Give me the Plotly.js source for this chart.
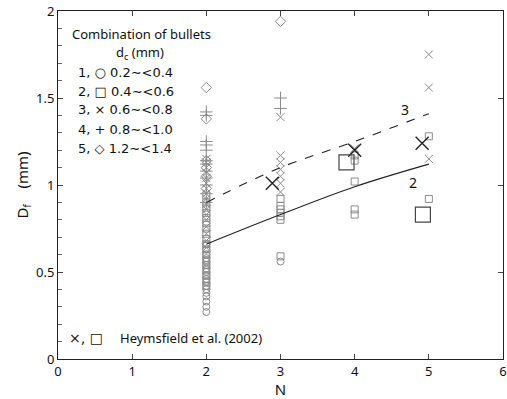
<!DOCTYPE html>
<html><head><meta charset="utf-8">
<script src="https://cdn.plot.ly/plotly-3.0.1.min.js"></script>
<style>body{margin:0;background:#fff}#c{width:507px;height:399px}</style>
</head><body><div id="c"></div>
<script>
// class 1: circles (dc 0.2-<0.4)
const circN = [2,2,2,2,2,2,2,2,2,2,2,2,2,2,2,2,2,2,3];
const circD = [0.27,0.30,0.33,0.36,0.38,0.40,0.42,0.44,0.46,0.48,0.50,0.52,0.54,0.56,0.58,0.60,0.63,0.66,0.56];
// class 2: squares (0.4-<0.6)
const sqN = [2,2,2,2,2,2,2,2,2,2,2,2,2,2,2,2,2,2,3,3,3,3,3,3,3,4,4,4,4,4,5,5];
const sqD = [0.42,0.45,0.48,0.51,0.54,0.57,0.60,0.63,0.66,0.69,0.72,0.75,0.78,0.81,0.84,0.87,0.90,0.94,0.59,0.80,0.82,0.84,0.86,0.88,0.92,0.83,0.86,1.02,1.14,1.17,0.92,1.28];
// class 3: x (0.6-<0.8)
const xN = [2,2,2,2,2,2,2,2,2,2,2,2,2,2,2,2,2,3,3,3,3,3,3,3,4,5,5,5];
const xD = [0.64,0.68,0.72,0.76,0.80,0.83,0.86,0.89,0.92,0.95,0.98,1.01,1.04,1.07,1.10,1.13,1.15,0.96,1.01,1.05,1.09,1.13,1.17,1.39,1.21,1.15,1.56,1.75];
// class 4: plus (0.8-<1.0)
const plN = [2,2,2,2,2,2,2,2,2,2,2,2,3,3];
const plD = [0.90,0.95,1.00,1.04,1.08,1.12,1.14,1.20,1.23,1.25,1.40,1.42,1.44,1.50];
// class 5: diamonds (1.2-<1.4)
const diN = [2,2,2,2,2,2,3];
const diD = [0.98,1.05,1.10,1.14,1.38,1.56,1.94];
// Heymsfield et al. (2002)
const hxN = [2.89,4.0,4.91];
const hxD = [1.01,1.20,1.24];
const hsN = [3.89,4.92];
const hsD = [1.13,0.83];
// fitted curves
const c2N = [2,3,4,5];
const c2D = [0.66,0.83,0.99,1.12];
const c3N = [2,3,4,5];
const c3D = [0.90,1.10,1.25,1.41];

const gray = '#8c8c8c';
function sc(x,y,sym,size){
  return {x:x,y:y,type:'scatter',mode:'markers',
    marker:{symbol:sym,size:size,color:gray,line:{color:gray,width:1}},hoverinfo:'skip'};
}
const data = [
  sc(circN,circD,'circle-open',7),
  sc(sqN,sqD,'square-open',7),
  sc(xN,xD,'x-thin-open',8),
  sc(plN,plD,'cross-thin-open',9),
  sc(diN,diD,'diamond-open',8),
  {x:c2N,y:c2D,type:'scatter',mode:'lines',line:{color:'#222',width:1.1,shape:'spline'}},
  {x:c3N,y:c3D,type:'scatter',mode:'lines',line:{color:'#222',width:1.1,dash:'dash',shape:'spline'}},
  {x:hxN,y:hxD,type:'scatter',mode:'markers',marker:{symbol:'x-thin-open',size:13,color:'#222',line:{color:'#222',width:1.4}}},
  {x:hsN,y:hsD,type:'scatter',mode:'markers',marker:{symbol:'square-open',size:15,color:'#444',line:{color:'#444',width:1.2}}},
  {x:[0],y:[1],yaxis:'y2',type:'scatter',mode:'markers',marker:{opacity:0},hoverinfo:'skip'}
];
const F = 'Noto Sans, DejaVu Sans, sans-serif';
const legLines = ['1, \u25CB 0.2\u223C<0.4','2, \u25A1 0.4\u223C<0.6','3, \u00D7 0.6\u223C<0.8','4, + 0.8\u223C<1.0','5, \u25C7 1.2\u223C<1.4'];
const annotations = [];
function addPx(text,px,py,size,fam){
  annotations.push({text:text,xref:'paper',yref:'paper',
    x:(px-57.5)/(503-57.5), y:(359-py)/(359-11), xanchor:'left',yanchor:'middle',
    showarrow:false,font:{family:fam||F,size:size||13,color:'#111'}});
}
addPx('Combination of bullets',70,34,13);
addPx('d<sub>c</sub> (mm)',114,53,13);
legLines.forEach((t,i)=>addPx(t,76,72+i*19,13,'DejaVu Sans, sans-serif'));
addPx('\u00D7, \u25A1',67,338,14,'DejaVu Sans, sans-serif');
addPx('Heymsfield et al. (2002)',118,338,13);
addPx('3',399,110,14);
addPx('2',407,182,14);

const layout = {
  width:507,height:399,margin:{l:57.5,r:4,t:11,b:40},
  paper_bgcolor:'#fff',plot_bgcolor:'#fff',showlegend:false,
  font:{family:F,size:13,color:'#111'},
  xaxis:{range:[0,6],dtick:1,ticks:'inside',ticklen:5,tickcolor:'#444',showline:true,linecolor:'#222',linewidth:1,
    mirror:'ticks',zeroline:false,showgrid:false,tickfont:{size:13},
    title:{text:'N',font:{size:15},standoff:2}},
  yaxis:{range:[0,2],dtick:0.5,ticks:'inside',ticklen:5,tickcolor:'#444',showline:true,linecolor:'#222',linewidth:1,
    mirror:true,zeroline:false,showgrid:false,tickfont:{size:13},
    minor:{dtick:0.1,ticks:'inside',ticklen:4,tickcolor:'#666'},
    title:{text:'D<sub>f</sub>    (mm)',font:{size:15},standoff:3}},
  yaxis2:{range:[0,2],dtick:0.5,overlaying:'y',side:'right',ticks:'inside',ticklen:5,tickcolor:'#444',
    showticklabels:false,showgrid:false,zeroline:false,showline:false},
  annotations:annotations
};
Plotly.newPlot('c',data,layout,{displayModeBar:false,staticPlot:true});
</script></body></html>
